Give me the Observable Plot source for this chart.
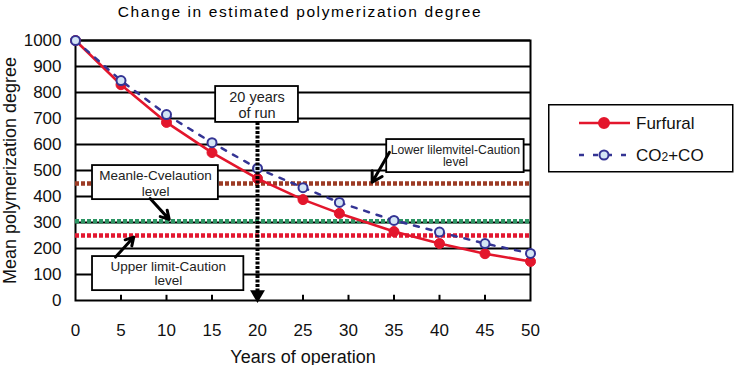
<!DOCTYPE html>
<html><head><meta charset="utf-8">
<script src="https://cdn.jsdelivr.net/npm/d3@7"></script>
<script src="https://cdn.jsdelivr.net/npm/@observablehq/plot@0.6"></script>
<style>
body{margin:0;background:#fff;}
#wrap{position:relative;width:734px;height:365px;font-family:"Liberation Sans",Arial,sans-serif;color:#000;}
#title{position:absolute;left:0;width:600px;top:3px;text-align:center;font-size:15.5px;letter-spacing:1.6px;white-space:nowrap;}
#legend{position:absolute;left:548px;top:104px;}
g[aria-label="x-axis label"] text, g[aria-label="y-axis label"] text{font-size:18px;}
g[aria-label="x-axis label"], g[aria-label="y-axis label"]{font-size:18px;}
</style></head><body><div id="wrap"><div id="title"></div></div>
<script>
// ---- data ----
const titleText = "Change in estimated polymerization degree";
const xLabel = "Years of operation";
const yLabel = "Mean polymerization degree";
const years    = [0, 5, 10, 15, 20, 25, 29, 35, 40, 45, 50];
const furfural = [1000, 830, 685, 569, 469, 388, 335, 265, 219, 180, 150];
const co2co    = [1000, 846, 715, 607, 508, 434, 377, 308, 263, 219, 181];
const seriesNames = ["Furfural", "CO2+CO"];
const xTicks = [0, 5, 10, 15, 20, 25, 30, 35, 40, 45, 50];
const yTicks = [0, 100, 200, 300, 400, 500, 600, 700, 800, 900, 1000];
const levelValues = [450, 305, 250];
const runYear = 20;
const noteTexts = ["20 years\nof run", "Meanle-Cvelaution\nlevel", "Upper limit-Caution\nlevel", "Lower lilemvitel-Caution\nlevel"];

// ---- layout / style (data units) ----
const levelColors = ["#9c3b24", "#2c9563", "#e2172f"];
const noteBoxes = [
  {x1: 15.4, x2: 24.5, y1: 685, y2: 823, cx: 19.95, cy: 754, fs: 14.5, lh: 1.12},
  {x1: 1.87, x2: 15.7, y1: 388, y2: 519, cx: 8.8, cy: 454, fs: 13.5, lh: 1.18},
  {x1: 1.87, x2: 18.5, y1: 38, y2: 169, cx: 10.2, cy: 104, fs: 13.5, lh: 1.05},
  {x1: 34.2, x2: 49.3, y1: 492, y2: 619, cx: 41.75, cy: 556, fs: 12.2, lh: 1.05}
];
const pointers = [
  {x1: 8.2, y1: 392, x2: 10.3, y2: 312},
  {x1: 4.4, y1: 167, x2: 6.4, y2: 244},
  {x1: 34.5, y1: 570, x2: 32.6, y2: 455}
];
const redC = "#e3162c", blueC = "#343494", blueFill = "#d3e5f5";
const font = '"Liberation Sans", Arial, sans-serif';

document.getElementById("title").textContent = titleText;

const furData = years.map((x, i) => ({x, y: furfural[i]}));
const coData = years.map((x, i) => ({x, y: co2co[i]}));
const notes = noteTexts.map((t, i) => ({text: t, ...noteBoxes[i]}));
const levels = levelValues.map((v, i) => ({v, c: levelColors[i]}));

const chart = Plot.plot({
  width: 734, height: 365,
  marginLeft: 75, marginRight: 204, marginTop: 40, marginBottom: 65,
  style: {fontFamily: font, fontSize: "17px", color: "#000", background: "transparent", overflow: "visible"},
  x: {domain: [0, 50]},
  y: {domain: [0, 1000]},
  marks: [
    Plot.axisX({ticks: xTicks, tickSize: 0, tickPadding: 23, tickFormat: d => String(d), fontSize: 17, fill: "#111",
      label: xLabel, labelAnchor: "center", labelOffset: 62, labelArrow: "none"}),
    Plot.axisY({ticks: yTicks, tickSize: 0, tickPadding: 14, tickFormat: d => String(d), fontSize: 17, fill: "#111",
      label: yLabel, labelAnchor: "center", labelOffset: 72, labelArrow: "none"}),
    Plot.ruleY(yTicks.slice(1), {stroke: "black", strokeWidth: 2}),
    Plot.ruleX(xTicks.slice(1, -1), {y1: 0, y2: 20, stroke: "black", strokeWidth: 2}),
    Plot.frame({stroke: "black", strokeWidth: 2}),
    Plot.ruleY(levels, {y: "v", x1: 0, x2: 50, stroke: "c", strokeWidth: 4.5, strokeDasharray: "4,2"}),
    Plot.rect(notes, {x1: "x1", x2: "x2", y1: "y1", y2: "y2", fill: "white", stroke: "black", strokeWidth: 1.8}),
    ...notes.map(n => Plot.text([n], {x: "cx", y: "cy", text: "text", fontSize: n.fs, lineHeight: n.lh, fill: "#222"})),
    Plot.line(furData, {x: "x", y: "y", stroke: redC, strokeWidth: 2.6}),
    Plot.dot(furData, {x: "x", y: "y", r: 5, fill: redC, stroke: redC, strokeWidth: 1}),
    Plot.line(coData, {x: "x", y: "y", stroke: blueC, strokeWidth: 2.5, strokeDasharray: "5,8"}),
    Plot.dot(coData, {x: "x", y: "y", r: 4.5, fill: blueFill, stroke: blueC, strokeWidth: 2}),
    Plot.ruleX([runYear], {y1: noteBoxes[0].y1, y2: 30, stroke: "black", strokeWidth: 4, strokeDasharray: "3,1.5"}),
    Plot.dot([runYear], {x: d => d, y: 0, symbol: "triangle", rotate: 180, r: 5.5, fill: "black", dy: -6}),
    Plot.arrow(pointers, {x1: "x1", y1: "y1", x2: "x2", y2: "y2", stroke: "black", strokeWidth: 3, headLength: 9})
  ]
});
document.getElementById("wrap").appendChild(chart);

// legend
const lg = d3.select("#wrap").append("svg").attr("id", "legend").attr("width", 186).attr("height", 69);
lg.append("rect").attr("x", 0.75).attr("y", 0.75).attr("width", 184).attr("height", 67).attr("fill", "white").attr("stroke", "black").attr("stroke-width", 1.5);
const rows = [
  {name: seriesNames[0], y: 19, stroke: redC, fill: redC, dash: null, r: 5},
  {name: seriesNames[1], y: 51, stroke: blueC, fill: blueFill, dash: "5,9", r: 4.5}
];
rows.forEach(r => {
  lg.append("line").attr("x1", 31).attr("x2", 82).attr("y1", r.y).attr("y2", r.y)
    .attr("stroke", r.stroke).attr("stroke-width", 2.6).attr("stroke-dasharray", r.dash);
  lg.append("circle").attr("cx", 56).attr("cy", r.y).attr("r", r.r).attr("fill", r.fill).attr("stroke", r.stroke).attr("stroke-width", 2);
  const t = lg.append("text").attr("x", 88).attr("y", r.y).attr("dy", "0.36em")
    .attr("font-family", font).attr("font-size", 17).attr("fill", "#111");
  r.name.split(/(\d)/).forEach(part => {
    if (/^\d$/.test(part)) t.append("tspan").attr("font-size", 12).text(part);
    else if (part) t.append("tspan").text(part);
  });
});
</script></body></html>
